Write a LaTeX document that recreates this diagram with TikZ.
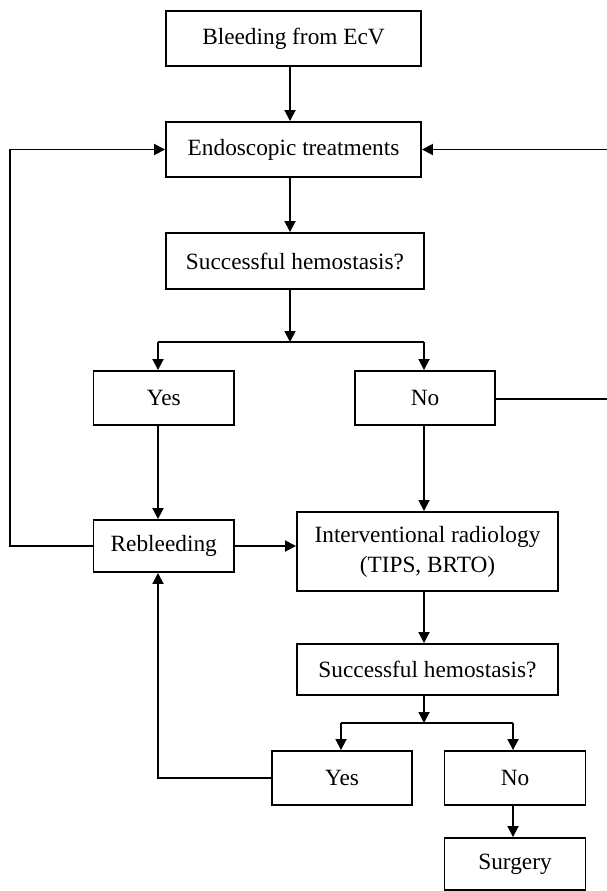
\documentclass[tikz,border=0pt]{standalone}
\usepackage{fontspec}
\setmainfont{Liberation Serif}
\usetikzlibrary{arrows.meta}
\begin{document}
\begin{tikzpicture}[x=1pt,y=-1pt,
  box/.style={draw,line width=1.9pt,inner sep=0pt,align=center,
    font=\fontsize{23.3}{30}\selectfont},
  conn/.style={line width=1.8pt},
  arr/.style={conn,-{Triangle[length=11pt,width=11pt]}}]
\useasboundingbox (0,0) rectangle (606,891);
% nodes
\node[box,minimum width=255pt,minimum height=55pt] (b1) at (293.5,38.5) {Bleeding from EcV};
\node[box,minimum width=255pt,minimum height=55pt] (b2) at (293.5,149.5) {Endoscopic treatments};
\node[box,minimum width=258pt,minimum height=56pt] (b3) at (295,261) {Successful hemostasis?};
\node[box,minimum width=140.5pt,minimum height=54pt] (yes1) at (163.75,398) {Yes};
\node[box,minimum width=140pt,minimum height=54pt] (no1) at (425,398) {No};
\node[box,minimum width=140.5pt,minimum height=52pt] (reb) at (163.75,546) {Rebleeding};
\node[box,minimum width=261pt,minimum height=79pt] (ir) at (427.5,551.5) {Interventional radiology\\(TIPS, BRTO)};
\node[box,minimum width=261pt,minimum height=51pt] (sh2) at (427.5,669.5) {Successful hemostasis?};
\node[box,minimum width=140pt,minimum height=54pt] (yes2) at (342,778) {Yes};
\node[box,minimum width=141pt,minimum height=54pt] (no2) at (515,778) {No};
\node[box,minimum width=141pt,minimum height=52pt] (surg) at (515,864) {Surgery};
% coordinates
\coordinate (br1) at (290,342);
\coordinate (br1l) at (158,342);
\coordinate (br1r) at (424,342);
\coordinate (lc) at (10,546);
\coordinate (rc) at (610,399);
\coordinate (br2) at (424,723);
\coordinate (br2l) at (341,723);
\coordinate (br2r) at (513,723);
\coordinate (yc) at (158,778);
% connectors
\draw[arr] (b1.south -| br1) -- (b2.north -| br1);
\draw[arr] (b2.south -| br1) -- (b3.north -| br1);
\draw[arr] (b3.south -| br1) -- (br1);
\draw[conn] (br1l) -- (br1r);
\draw[arr] (br1l) -- (br1l |- yes1.north);
\draw[arr] (br1r) -- (br1r |- no1.north);
\draw[arr] (yes1.south -| br1l) -- (reb.north -| br1l);
\draw[arr] (reb.west) -- (lc) |- (b2.west);
\draw[arr] (no1.east |- rc) -- (rc) |- (b2.east);
\draw[arr] (reb.east) -- (reb.east -| ir.west);
\draw[arr] (no1.south -| br1r) -- (ir.north -| br1r);
\draw[arr] (ir.south -| br2) -- (sh2.north -| br2);
\draw[arr] (sh2.south -| br2) -- (br2);
\draw[conn] (br2l) -- (br2r);
\draw[arr] (br2l) -- (br2l |- yes2.north);
\draw[arr] (br2r) -- (br2r |- no2.north);
\draw[arr] (yes2.west) -- (yc) -- (reb.south -| yc);
\draw[arr] (no2.south -| br2r) -- (surg.north -| br2r);
\end{tikzpicture}
\end{document}
